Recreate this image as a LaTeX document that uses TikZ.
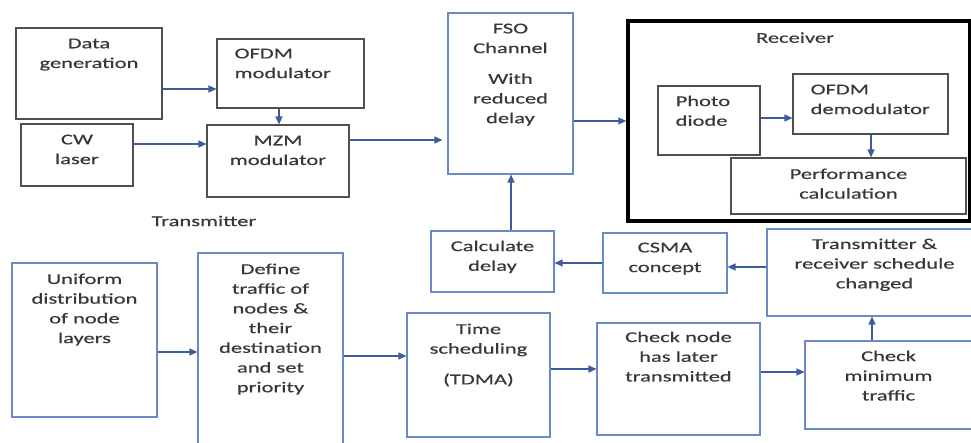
\documentclass[tikz,border=0pt]{standalone}
\usepackage{fontspec}
\setmainfont{Carlito}[FakeStretch=1.5,FakeBold=0.5]
\usetikzlibrary{arrows.meta,positioning}

\definecolor{txtgray}{HTML}{3B3834}
\definecolor{boxgray}{HTML}{505050}
\definecolor{boxblue}{HTML}{6A8AC6}
\definecolor{arrblue}{HTML}{3D5C9E}

\begin{document}
\begin{tikzpicture}[x=1pt,y=-1pt,
  gbox/.style={draw=boxgray, line width=1.1pt, inner sep=0pt},
  bbox/.style={draw=boxblue, line width=1.1pt, inner sep=0pt},
  txt/.style={text=txtgray, align=center, inner sep=0pt, font=\fontsize{15}{19.7}\selectfont},
  arr/.style={-{Triangle[length=8pt,width=7pt]}, line width=1.3pt, draw=arrblue}]

\useasboundingbox (0,0) rectangle (971,443);

% Transmitter blocks
\node[gbox, minimum width=146pt, minimum height=91pt] (datagen) at (89,73.5) {};
\node[gbox, minimum width=147pt, minimum height=69pt] (ofdmmod) at (290.5,73.5) {};
\node[gbox, minimum width=112pt, minimum height=62pt] (cw) at (77,155) {};
\node[gbox, minimum width=142pt, minimum height=72pt] (mzm) at (278,161) {};
\node[txt, below=11pt of datagen.north] (datagen-t) {Data\\generation};
\node[txt, align=left, anchor=north west, below right=10pt and 18pt of ofdmmod.north west] (ofdmmod-t) {OFDM\\modulator};
\node[txt, below=11pt of cw.north] (cw-t) {CW\\laser};
\node[txt, below=11pt of mzm.north] (mzm-t) {MZM\\modulator};
\node[txt] (txlabel) at (204,221) {Transmitter};

% Channel
\node[bbox, minimum width=125pt, minimum height=161pt] (fso) at (510.5,93.5) {};
\node[txt, below=11pt of fso.north] (fso-t) {FSO\\Channel\\[11pt]With\\reduced\\delay};

% Receiver
\node[draw=black, line width=3.5pt, minimum width=342pt, minimum height=200pt] (receiver) at (799,121) {};
\node[txt, below=13pt of receiver.north, xshift=-4pt] (receiver-t) {Receiver};
\node[gbox, minimum width=102pt, minimum height=69pt] (photo) at (709,120.5) {};
\node[gbox, minimum width=155pt, minimum height=60pt] (ofdmdemod) at (870.5,104) {};
\node[gbox, minimum width=235pt, minimum height=56pt] (perf) at (848.5,186) {};
\node[txt, align=left, anchor=north west, below right=10pt and 18pt of photo.north west] (photo-t) {Photo\\diode};
\node[txt, align=left, anchor=north west, below right=11pt and 18pt of ofdmdemod.north west] (ofdmdemod-t) {OFDM\\demodulator};
\node[txt, below=11pt of perf.north] (perf-t) {Performance\\calculation};

% Scheduling blocks
\node[bbox, minimum width=123pt, minimum height=61pt] (calc) at (492.5,261.5) {};
\node[bbox, minimum width=124pt, minimum height=60pt] (csma) at (665,263) {};
\node[bbox, minimum width=205pt, minimum height=87pt] (trsched) at (869.5,272.5) {};
\node[bbox, minimum width=145pt, minimum height=154pt] (uniform) at (84.5,340) {};
\node[bbox, minimum width=145pt, minimum height=194pt] (define) at (270.5,350) {};
\node[bbox, minimum width=143pt, minimum height=124pt] (tdma) at (478.5,375) {};
\node[bbox, minimum width=163pt, minimum height=112pt] (checknode) at (678.5,379) {};
\node[bbox, minimum width=167pt, minimum height=88pt] (checkmin) at (888.5,385) {};
\node[txt, below=10pt of calc.north] (calc-t) {Calculate\\delay};
\node[txt, below=10pt of csma.north] (csma-t) {CSMA\\concept};
\node[txt, below=10pt of trsched.north, xshift=5pt] (trsched-t) {Transmitter \&\\receiver schedule\\changed};
\node[txt, below=11pt of uniform.north] (uniform-t) {Uniform\\distribution\\of node\\layers};
\node[txt, below=11pt of define.north] (define-t) {Define\\traffic of\\nodes \&\\their\\destination\\and set\\priority};
\node[txt, below=11pt of tdma.north] (tdma-t) {Time\\scheduling\\[11pt](TDMA)};
\node[txt, below=9pt of checknode.north] (checknode-t) {Check node\\has later\\transmitted};
\node[txt, below=10pt of checkmin.north] (checkmin-t) {Check\\minimum\\traffic};

% Arrows to the right
\foreach \a/\b/\y in {datagen/ofdmmod/89, cw/mzm/144, fso/receiver/121,
    photo/ofdmdemod/118, uniform/define/352, define/tdma/356,
    tdma/checknode/369, checknode/checkmin/372}
  \draw[arr] (\a.east |- 0,\y) -- (\b.west |- 0,\y);
\draw[arr, shorten >=5pt] (mzm.east |- 0,140) -- (fso.west |- 0,140);

% Arrows to the left
\draw[arr] (csma.west |- 0,263) -- (calc.east |- 0,263);
\draw[arr] (trsched.west |- 0,267) -- (csma.east |- 0,267);

% Vertical arrows
\draw[arr] (ofdmmod.south -| 279,0) -- (mzm.north -| 279,0);
\draw[arr] (ofdmdemod.south -| 871,0) -- (perf.north -| 871,0);
\draw[arr] (checkmin.north -| 872,0) -- (trsched.south -| 872,0);
\draw[arr] (calc.north -| 511,0) -- (fso.south -| 511,0);

\end{tikzpicture}
\end{document}
